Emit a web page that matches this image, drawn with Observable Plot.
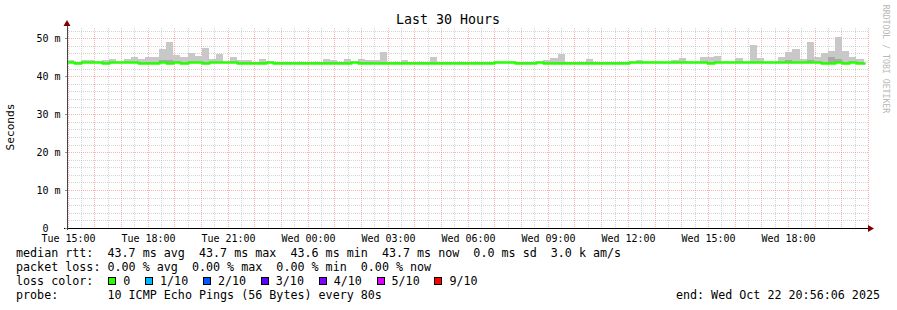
<!DOCTYPE html>
<html><head><meta charset="utf-8">
<script src="https://cdn.jsdelivr.net/npm/d3@7"></script>
<script src="https://cdn.jsdelivr.net/npm/@observablehq/plot@0.6"></script>
<style>
body{margin:0;background:#fff;}
#wrap{position:relative;width:897px;height:310px;font-family:"DejaVu Sans Mono",monospace;color:#000;overflow:hidden;background:#fff}
.t{position:absolute;white-space:pre;line-height:1;}
</style></head><body><div id="wrap"></div>
<script>
// ---- text ----
const title = "Last 30 Hours";
const yLabel = "Seconds";
const sideLabel = "RRDTOOL / TOBI OETIKER";
const legendRtt = "median rtt:  43.7 ms avg  43.7 ms max  43.6 ms min  43.7 ms now  0.0 ms sd  3.0 k am/s";
const legendLoss = "packet loss: 0.00 % avg  0.00 % max  0.00 % min  0.00 % now";
const legendLossColor = "loss color:";
const legendProbe = "probe:       10 ICMP Echo Pings (56 Bytes) every 80s";
const legendEnd = "end: Wed Oct 22 20:56:06 2025";
const lossLabels = ["0", "1/10", "2/10", "3/10", "4/10", "5/10", "9/10"];
const lossColors = ["#26ff00", "#00b8ff", "#0059ff", "#5e00ff", "#7e00ff", "#dd00ff", "#ff0000"];

// ---- axes (hours counted from Tue 00:00) ----
const viewStart = 14.98;   // ~Tue 14:59
const viewEnd = 45.0;      // ~Wed 21:00
const xTickHours = [15, 18, 21, 24, 27, 30, 33, 36, 39, 42];
const xTickLabels = ["Tue 15:00", "Tue 18:00", "Tue 21:00", "Wed 00:00", "Wed 03:00", "Wed 06:00", "Wed 09:00", "Wed 12:00", "Wed 15:00", "Wed 18:00"];
const yTicks = [0, 10, 20, 30, 40, 50];
const yTickLabels = ["0\u00a0\u00a0", "10 m", "20 m", "30 m", "40 m", "50 m"];
const yMax = 52.7;

// ---- data: 16-minute buckets starting Tue 14:58 ----
const firstBucket = 14 + 58 / 60;
const bucketMinutes = 16;
const medianRtt = [
43.7,43.6,43.7,43.7,43.7,43.6,43.7,43.7,43.7,43.7,43.6,43.6,43.6,43.7,43.6,43.7,
43.6,43.7,43.7,43.6,43.7,43.7,43.7,43.7,43.6,43.6,43.6,43.6,43.7,43.6,43.6,43.6,
43.6,43.6,43.6,43.6,43.6,43.6,43.6,43.6,43.7,43.6,43.6,43.6,43.6,43.6,43.6,43.6,
43.6,43.6,43.6,43.6,43.6,43.6,43.6,43.6,43.6,43.6,43.6,43.6,43.7,43.7,43.7,43.6,
43.6,43.6,43.7,43.6,43.6,43.6,43.6,43.6,43.6,43.6,43.6,43.6,43.6,43.6,43.6,43.7,
43.7,43.7,43.7,43.7,43.7,43.7,43.7,43.7,43.7,43.7,43.6,43.7,43.7,43.7,43.7,43.7,
43.7,43.7,43.7,43.7,43.7,43.7,43.7,43.7,43.7,43.7,43.6,43.6,43.7,43.6,43.7,43.6
];
const smokeTop = [
44.3,43.8,44.3,44.3,43.8,44.3,44.5,43.8,44.5,45.1,44.5,45.1,45.1,47.2,49.0,45.6,
45.1,46.1,45.3,47.5,44.5,45.9,43.8,45.1,44.3,44.3,43.8,44.5,43.8,43.8,43.8,43.8,
43.8,43.8,43.8,43.8,44.5,44.3,43.8,44.5,43.8,44.5,44.3,44.3,46.4,43.8,43.8,44.3,
43.8,43.8,43.8,45.1,43.8,43.8,43.8,43.8,43.8,43.8,43.8,43.8,43.8,43.8,43.8,43.8,
43.8,43.8,43.8,44.3,44.8,45.9,43.8,43.8,43.8,44.5,43.8,43.8,43.8,43.8,43.8,43.8,
44.3,43.8,43.8,43.8,43.8,44.3,44.8,43.8,43.8,45.1,45.1,45.3,43.8,43.8,44.8,43.8,
48.2,44.8,43.8,43.8,45.1,46.4,47.2,44.5,49.0,45.0,46.1,46.7,50.3,46.7,45.1,44.5
];
const smokeInner = [
43.7,43.7,43.7,43.7,43.7,43.7,43.7,43.7,43.7,43.7,43.7,43.7,43.7,44.3,44.3,43.7,
43.7,43.7,43.7,43.7,43.7,43.7,43.7,43.7,43.7,43.7,43.7,43.7,43.7,43.7,43.7,43.7,
43.7,43.7,43.7,43.7,43.7,43.7,43.7,43.7,43.7,43.7,43.7,43.7,43.7,43.7,43.7,43.7,
43.7,43.7,43.7,43.7,43.7,43.7,43.7,43.7,43.7,43.7,43.7,43.7,43.7,43.7,43.7,43.7,
43.7,43.7,43.7,43.7,43.7,43.7,43.7,43.7,43.7,43.7,43.7,43.7,43.7,43.7,43.7,43.7,
43.7,43.7,43.7,43.7,43.7,43.7,43.7,43.7,43.7,43.7,43.7,43.7,43.7,43.7,43.7,43.7,
43.7,43.7,43.7,43.7,43.7,44.3,43.7,43.7,44.3,43.7,43.7,45.1,44.5,43.7,43.7,43.7
];
const smokeLow = [
43.4,43.4,43.4,43.4,43.4,43.4,43.4,43.4,43.4,43.4,43.4,43.4,43.4,43.4,43.4,43.4,
43.4,43.4,43.4,43.4,43.4,43.4,43.4,43.4,43.4,43.4,43.4,43.4,43.4,43.4,43.4,43.4,
43.4,43.4,43.4,43.4,43.4,43.4,43.4,43.4,43.4,43.4,43.4,43.4,43.4,43.4,43.4,43.4,
43.4,43.4,43.4,43.4,43.4,43.4,43.4,43.4,43.4,43.4,43.4,43.4,43.4,43.4,43.4,43.4,
43.4,43.4,43.4,43.4,43.4,43.4,43.4,43.4,43.4,43.4,43.4,43.4,43.4,43.4,43.4,43.4,
43.4,43.4,43.4,43.4,43.4,43.4,43.4,43.4,43.4,43.4,43.4,43.4,43.4,43.4,43.4,43.4,
43.4,43.4,43.4,43.4,43.4,43.4,43.4,43.4,43.4,43.4,43.4,43.4,43.4,43.4,43.4,43.4
];

// ---- build ----
const buckets = medianRtt.map((m, i) => ({
  x1: firstBucket + i * bucketMinutes / 60,
  x2: firstBucket + (i + 1) * bucketMinutes / 60,
  median: m, low: smokeLow[i], top: smokeTop[i], inner: smokeInner[i]
}));
const last = buckets[buckets.length - 1];
const linePts = buckets.map(d => ({x: d.x1, y: d.median})).concat([{x: last.x2, y: last.median}]);

const hourLines = d3.range(Math.ceil(viewStart), Math.floor(viewEnd) + 1);
const halfHourLines = hourLines.map(h => h + 0.5).filter(h => h < viewEnd);
const yMinor = d3.range(2, yMax, 2).filter(v => v % 10 !== 0);
const yMajor = yTicks.filter(v => v > 0);

const gridGray = "rgba(143,143,143,0.38)";
const gridRed = "rgba(245,79,79,0.42)";

const chart = Plot.plot({
  width: 897, height: 310,
  marginLeft: 67, marginRight: 29, marginTop: 28, marginBottom: 82,
  style: {fontFamily: "'DejaVu Sans Mono', monospace", fontSize: "10px", color: "#000", background: "transparent", overflow: "visible"},
  x: {domain: [viewStart, viewEnd], round: true},
  y: {domain: [0, yMax], round: true},
  marks: [
    Plot.ruleX(halfHourLines, {stroke: gridGray, strokeDasharray: "1,1"}),
    Plot.ruleX(hourLines, {stroke: gridRed, strokeDasharray: "1,1"}),
    Plot.ruleY(yMinor, {stroke: gridGray, strokeDasharray: "1,1"}),
    Plot.ruleY(yMajor, {stroke: gridRed, strokeDasharray: "1,1"}),
    Plot.rectY(buckets, {x1: "x1", x2: "x2", y1: "low", y2: "top", fill: "#c8c8c8", shapeRendering: "crispEdges", clip: true}),
    Plot.rectY(buckets, {x1: "x1", x2: "x2", y1: "low", y2: "inner", fill: "#a9a9a9", shapeRendering: "crispEdges", clip: true}),
    Plot.line(linePts, {x: "x", y: "y", curve: "step-after", stroke: lossColors[0], strokeWidth: 2.6, clip: true}),
    Plot.ruleY([0], {stroke: "#000", insetLeft: -3, insetRight: 0}),
    Plot.ruleX([viewStart], {stroke: "#444", insetTop: -2, insetBottom: -2}),
    Plot.axisX(xTickHours, {tickSize: 0, tickPadding: 6, tickFormat: d => xTickLabels[xTickHours.indexOf(d)], fontSize: 10, fill: "#000"}),
    Plot.axisY(yTicks, {tickSize: 2, tickPadding: 5, stroke: "#999", tickFormat: d => yTickLabels[yTicks.indexOf(d)], fontSize: 10, fill: "#000"})
  ]
});
chart.style.position = "absolute";
chart.style.left = "0px";
chart.style.top = "0px";
const wrap = document.getElementById("wrap");
wrap.appendChild(chart);

// arrows (axis decorations)
const ns = "http://www.w3.org/2000/svg";
const ov = document.createElementNS(ns, "svg");
ov.setAttribute("width", 897); ov.setAttribute("height", 310);
ov.style.position = "absolute"; ov.style.left = "0"; ov.style.top = "0";
const up = document.createElementNS(ns, "path");
up.setAttribute("d", "M63.5,26 L70.5,26 L67,20 Z"); up.setAttribute("fill", "#800000");
const rt = document.createElementNS(ns, "path");
rt.setAttribute("d", "M868,225 L868,232 L874,228.5 Z"); rt.setAttribute("fill", "#800000");
ov.appendChild(up); ov.appendChild(rt);
wrap.appendChild(ov);

function addText(str, o) {
  const d = document.createElement("div");
  d.className = "t";
  d.textContent = str;
  d.style.fontSize = o.size + "px";
  if (o.left != null) d.style.left = o.left + "px";
  if (o.right != null) d.style.right = o.right + "px";
  if (o.top != null) d.style.top = o.top + "px";
  if (o.color) d.style.color = o.color;
  if (o.transform) d.style.transform = o.transform;
  wrap.appendChild(d);
  return d;
}
const fs = 11.7;
const topFor = (baseline, size) => baseline - 0.846 * size;
// title
const tt = addText(title, {size: 13.3, left: 448, top: topFor(24, 13.3)});
tt.style.transform = "translateX(-50%)";
// y label
addText(yLabel, {size: 11.2, left: 11, top: 126.5, transform: "translate(-50%,-50%) rotate(-90deg)"});
// side label
addText(sideLabel, {size: 8.2, left: 886, top: 58.5, color: "#b8b8b8", transform: "translate(-50%,-50%) rotate(90deg)"});
// legend rows
addText(legendRtt, {size: fs, left: 16, top: topFor(258, fs)});
addText(legendLoss, {size: fs, left: 16, top: topFor(272, fs)});
addText(legendLossColor, {size: fs, left: 16, top: topFor(286, fs)});
addText(legendProbe, {size: fs, left: 16, top: topFor(300, fs)});
addText(legendEnd, {size: fs, right: 17, top: topFor(300, fs)});
// loss color boxes
const charW = 0.602 * fs;
let lx = 108.3;
lossLabels.forEach((lab, i) => {
  const b = document.createElement("div");
  b.style.cssText = `position:absolute;left:${lx}px;top:277px;width:8px;height:8px;box-sizing:border-box;border:1px solid #000;background:${lossColors[i]}`;
  wrap.appendChild(b);
  addText(lab, {size: fs, left: lx + 15, top: topFor(286, fs)});
  lx += 8 + 7 + lab.length * charW + 14.7;
});
</script></body></html>
